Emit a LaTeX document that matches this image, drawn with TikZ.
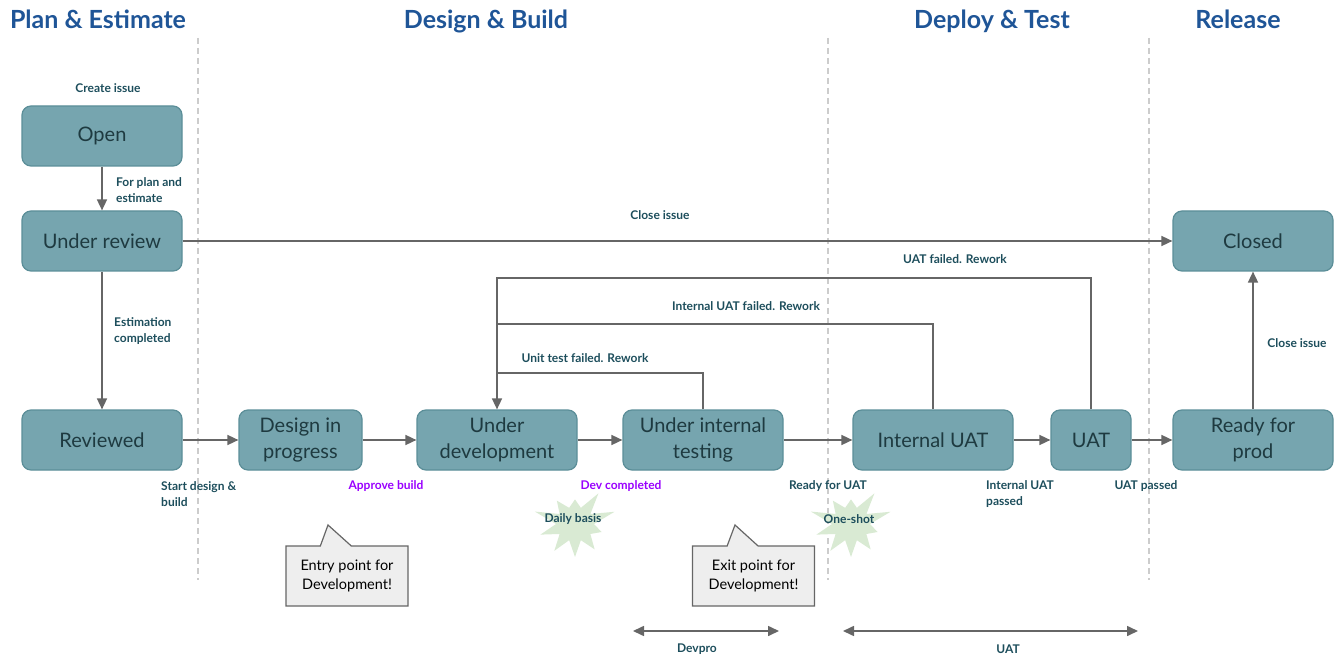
\documentclass[tikz,border=0pt]{standalone}
\usepackage{fontspec}
\setmainfont{Lato}
\usepackage{tikz}
\usetikzlibrary{arrows.meta,shapes.symbols,shapes.callouts}

\definecolor{statefill}{HTML}{76A5AF}
\definecolor{stateline}{HTML}{5B8E98}
\definecolor{statetext}{HTML}{1E3A40}
\definecolor{lbltext}{HTML}{1D4E5C}
\definecolor{headblue}{HTML}{1F5597}
\definecolor{approve}{HTML}{9900FF}
\definecolor{burstfill}{HTML}{D9EAD3}
\definecolor{arrowgray}{HTML}{666666}
\definecolor{lanegray}{HTML}{CCCCCC}
\definecolor{notefill}{HTML}{EEEEEE}

\tikzset{
  state/.style={draw=stateline, fill=statefill, line width=1.2pt, rounded corners=9pt,
    minimum width=160pt, minimum height=60pt, align=center, text=statetext,
    font=\fontsize{20}{26}\selectfont},
  lbl/.style={text=lbltext, align=left, inner sep=0pt, font=\bfseries\fontsize{12}{16}\selectfont},
  head/.style={text=headblue, anchor=base, font=\bfseries\fontsize{25}{28}\selectfont},
  flow/.style={draw=arrowgray, line width=1.6pt, -{Triangle[length=11pt,width=10pt]}},
  line/.style={draw=arrowgray, line width=1.6pt},
  span/.style={draw=arrowgray, line width=1.6pt, {Triangle[length=11pt,width=10pt]}-{Triangle[length=11pt,width=10pt]}},
  lane/.style={draw=lanegray, line width=1.2pt, dash pattern=on 6pt off 4pt},
  note/.style={rectangle callout, draw=arrowgray, fill=notefill, line width=1.2pt,
    minimum width=122pt, minimum height=60pt, align=center, callout pointer width=31pt,
    font=\fontsize{14.5}{19}\selectfont},
  burst/.style={starburst, fill=burstfill, draw=none, minimum width=86pt, minimum height=82pt,
    starburst points=10, starburst point height=24pt, random starburst=3, inner sep=0pt}
}

\begin{document}
\begin{tikzpicture}[x=1pt, y=-1pt]
  \useasboundingbox (0,0) rectangle (1342,660);

  % swim lanes
  \draw[lane] (198,38) -- (198,580);
  \draw[lane] (828,38) -- (828,580);
  \draw[lane] (1149,38) -- (1149,580);
  \node[head] (hplan) at (98,29) {Plan \& Estimate};
  \node[head] (hdesign) at (486,29) {Design \& Build};
  \node[head] (hdeploy) at (992,29) {Deploy \& Test};
  \node[head] (hrelease) at (1238,29) {Release};

  % markers
  \node[burst, label={[lbl,xshift=-2pt,yshift=5pt]center:Daily basis}] (daily) at (575,524) {};
  \node[burst, label={[lbl,xshift=-2pt,yshift=5pt]center:One-shot}] (oneshot) at (851,524) {};
  \node[note, callout absolute pointer={(328,525)}] (entry) at (347,576) {Entry point for\\Development!};
  \node[note, callout absolute pointer={(735,525)}] (exit) at (753.5,576) {Exit point for\\Development!};

  % states
  \node[state] (open) at (102,136) {Open};
  \node[state] (review) at (102,241) {Under review};
  \node[state] (reviewed) at (102,440) {Reviewed};
  \node[state, minimum width=123pt] (design) at (300.5,440) {Design in\\progress};
  \node[state] (dev) at (497,440) {Under\\development};
  \node[state] (test) at (703,440) {Under internal\\testing};
  \node[state] (iuat) at (933,440) {Internal UAT};
  \node[state, minimum width=80pt] (uat) at (1091,440) {UAT};
  \node[state] (prod) at (1253,440) {Ready for\\prod};
  \node[state] (closed) at (1253,241) {Closed};

  \coordinate (unitback) at (497,373);
  \coordinate (iuatback) at (497,324);
  \coordinate (uatback) at (497,278);

  \draw[flow] (open) -- (review);
  \draw[flow] (review) -- (closed);
  \draw[flow] (review) -- (reviewed);
  \draw[flow] (reviewed) -- (design);
  \draw[flow] (design) -- (dev);
  \draw[flow] (dev) -- (test);
  \draw[flow] (test) -- (iuat);
  \draw[flow] (iuat) -- (uat);
  \draw[flow] (uat) -- (prod);
  \draw[flow] (prod) -- (closed);
  \draw[line] (test.north) |- (unitback);
  \draw[line] (iuat.north) |- (iuatback);
  \draw[flow] (uat.north) |- (uatback) -- (dev.north);

  % transition labels
  \node[lbl] (create) at (108,88) {Create issue};
  \node[lbl, anchor=west] (plan) at (116,190) {For plan and\\estimate};
  \node[lbl] (closeall) at (660,215) {Close issue};
  \node[lbl, anchor=west] (estim) at (114,331) {Estimation\\completed};
  \node[lbl, anchor=west] (start) at (161,494) {Start design \&\\build};
  \node[lbl, text=approve] (approve) at (386,486) {Approve build};
  \node[lbl, text=approve] (devdone) at (621,486) {Dev completed};
  \node[lbl] (ready) at (828,486) {Ready for UAT};
  \node[lbl, anchor=west] (iuatok) at (986,494) {Internal UAT\\passed};
  \node[lbl] (uatok) at (1146,486) {UAT passed};
  \node[lbl] (uatfail) at (955,259) {UAT failed. Rework};
  \node[lbl] (iuatfail) at (746,306) {Internal UAT failed. Rework};
  \node[lbl] (unitfail) at (585,358) {Unit test failed. Rework};
  \node[lbl] (closeprod) at (1297,343) {Close issue};

  % team spans
  \coordinate (devfrom) at (633,631);
  \coordinate (devto) at (779,631);
  \coordinate (uatfrom) at (843,631);
  \coordinate (uatto) at (1138,631);
  \draw[span] (devfrom) -- (devto);
  \draw[span] (uatfrom) -- (uatto);
  \node[lbl] (devpro) at (697,649) {Devpro};
  \node[lbl] (uatteam) at (1008,649) {UAT};
\end{tikzpicture}
\end{document}
